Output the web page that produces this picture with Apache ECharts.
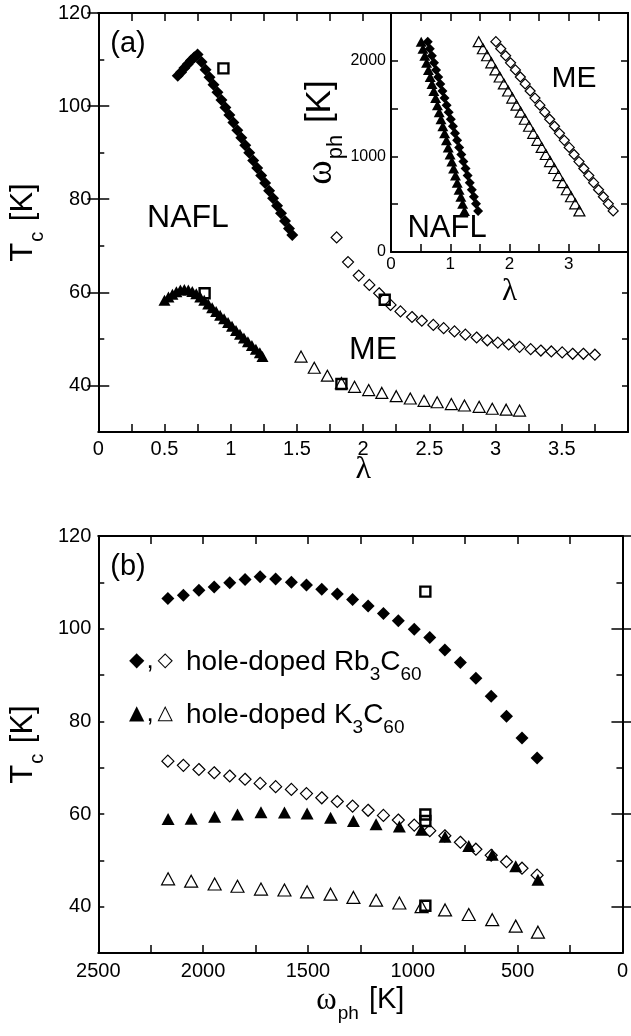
<!DOCTYPE html>
<html><head><meta charset="utf-8">
<script src="https://cdn.jsdelivr.net/npm/echarts@6/dist/echarts.min.js"></script>
<style>html,body{margin:0;padding:0;background:#fff}#c{width:631px;height:1036px}</style>
</head><body><div id="c"></div>
<script>
// ---------- Panel (a): Tc vs lambda ----------
const aRbNaflLam = [0.60,0.625,0.65,0.675,0.70,0.725,0.75,0.78,0.81,0.84,0.87,0.90,0.93,0.96,0.99,1.02,1.05,1.08,1.11,1.14,1.17,1.20,1.23,1.26,1.29,1.32,1.35,1.38,1.41,1.44,1.465];
const aRbNaflTc  = [106.5,107.3,108.2,109.0,109.8,110.5,111.1,109.5,107.8,106.2,104.6,103.0,101.3,99.7,98.1,96.5,94.8,93.2,91.6,90.0,88.3,86.7,85.1,83.5,81.8,80.2,78.6,77.0,75.3,73.7,72.3];
const aKNaflLam  = [0.50,0.53,0.56,0.59,0.62,0.65,0.68,0.71,0.74,0.77,0.80,0.83,0.86,0.89,0.92,0.95,0.98,1.01,1.04,1.07,1.10,1.13,1.16,1.19,1.22,1.24];
const aKNaflTc   = [58.3,59.0,59.6,60.1,60.5,60.6,60.5,60.2,59.7,59.0,58.3,57.5,56.7,55.9,55.1,54.3,53.5,52.7,51.8,51.0,50.2,49.4,48.6,47.8,47.0,46.2];
const aRbMeLam   = [1.80,1.886,1.967,2.047,2.121,2.207,2.282,2.369,2.443,2.53,2.608,2.69,2.772,2.857,2.938,3.017,3.099,3.181,3.265,3.342,3.421,3.503,3.582,3.663,3.75];
const aRbMeTc    = [71.8,66.5,63.6,61.6,59.8,57.3,55.9,54.7,53.9,53.0,52.3,51.6,50.9,50.3,49.7,49.2,48.8,48.3,47.8,47.5,47.3,47.1,46.8,46.8,46.6];
const aKMeLam    = [1.531,1.631,1.73,1.836,1.935,2.042,2.141,2.25,2.356,2.46,2.559,2.666,2.765,2.876,2.975,3.08,3.181];
const aKMeTc     = [46.2,43.8,42.1,40.5,39.7,39.0,38.4,37.7,37.2,36.7,36.4,36.0,35.7,35.4,35.0,34.8,34.6];
const aSqLam     = [0.945,0.803,2.163,1.836];
const aSqTc      = [108.1,59.8,58.4,40.3];

// ---------- Inset: omega_ph vs lambda ----------
const inOmega       = [2200,2126,2053,1979,1905,1831,1758,1684,1610,1536,1463,1389,1315,1241,1168,1094,1020,946,873,799,725,651,578,504,430];
const inRbNaflLam   = [0.62,0.655,0.69,0.726,0.761,0.797,0.832,0.868,0.903,0.939,0.974,1.01,1.045,1.08,1.116,1.151,1.187,1.222,1.258,1.293,1.329,1.364,1.399,1.435,1.47];
const inKNaflLam    = [0.51,0.54,0.571,0.601,0.632,0.662,0.692,0.723,0.753,0.784,0.814,0.844,0.875,0.905,0.936,0.966,0.997,1.027,1.057,1.088,1.118,1.149,1.179,1.209,1.24];
const inRbMeLam     = [1.77,1.853,1.935,2.018,2.10,2.183,2.265,2.348,2.43,2.513,2.595,2.678,2.76,2.843,2.925,3.008,3.09,3.173,3.255,3.338,3.42,3.503,3.585,3.668,3.75];
const inKMeLam      = [1.48,1.551,1.622,1.693,1.763,1.834,1.905,1.976,2.047,2.118,2.188,2.259,2.33,2.401,2.472,2.543,2.613,2.684,2.755,2.826,2.897,2.968,3.038,3.109,3.18];

// ---------- Panel (b): Tc vs omega_ph ----------
const bOmegaRb  = [2168,2094,2020,1947,1873,1800,1728,1654,1579,1507,1434,1360,1287,1213,1140,1069,993,919,847,773,699,626,553,479,407];
const bRbNaflTc = [106.5,107.2,108.3,109.0,109.9,110.6,111.2,110.7,110.0,109.4,108.5,107.5,106.3,104.9,103.3,101.7,99.9,98.1,95.4,92.7,89.3,85.4,81.1,76.4,72.1];
const bRbMeTc   = [71.4,70.5,69.6,68.9,68.2,67.5,66.6,65.9,65.3,64.4,63.5,62.7,61.7,60.8,59.7,58.7,57.6,56.4,55.3,53.9,52.4,51.1,49.7,48.3,46.8];
const bOmegaK   = [2167,2057,1945,1836,1724,1612,1504,1392,1283,1175,1064,958,846,733,621,509,403];
const bKNaflTc  = [58.9,59.0,59.4,59.9,60.4,60.3,60.1,59.2,58.5,57.8,57.3,56.6,55.1,53.1,51.2,48.7,45.8];
const bKMeTc    = [46.0,45.5,44.9,44.4,43.8,43.6,43.2,42.7,42.0,41.4,40.8,40.0,39.3,38.3,37.2,35.8,34.5];
const bSqOmega  = [940,940,940,940];
const bSqTc     = [108.0,59.9,58.5,40.2];

const tcMajor = [40,60,80,100,120];

const FONT = "'Liberation Sans', Arial, Helvetica, sans-serif";
const SERIF = "'Liberation Serif', 'DejaVu Serif', serif";
const BLK = '#000';
const zip = (a,b) => a.map((v,i)=>[v,b[i]]);

const lineS = {color:BLK, width:2};
function xAx(grid, pos, o) {
  return Object.assign({
    gridIndex:grid, type:'value', position:pos,
    axisLine:{show:true, onZero:false, lineStyle:lineS},
    axisTick:{show:true, inside:true, length:8, lineStyle:{color:BLK,width:1.5}},
    axisLabel:{show:false},
    splitLine:{show:false}
  }, o);
}
function yAx(grid, pos, o) {
  return Object.assign({
    gridIndex:grid, type:'value', position:pos,
    axisLine:{show:true, onZero:false, lineStyle:lineS},
    axisTick:{show:true, inside:true, length:6, lineStyle:{color:BLK,width:1.5}},
    axisLabel:{show:false},
    splitLine:{show:false}
  }, o);
}
const lab = (size, fmt, margin) => ({show:true, color:BLK, fontSize:size, fontFamily:FONT, formatter:fmt, margin:margin});

const fmtHalf = v => (Math.abs(v*2-Math.round(v*2))<1e-6 && v<3.99) ? String(Math.round(v*100)/100) : '';
const fmt20 = v => (Math.round(v)%20===0) ? String(Math.round(v)) : '';
const fmtInt = v => (Math.abs(v-Math.round(v))<1e-6 && v<3.99) ? String(Math.round(v)) : '';
const fmt1000 = v => (Math.round(v)%1000===0) ? String(Math.round(v)) : '';
const fmt500 = v => (Math.round(v)%500===0) ? String(Math.round(v)) : '';

const tcName = '{t|T}{s|c}{t| [K]}';
const tcRich = {t:{fontSize:31, fontFamily:FONT, color:BLK, lineHeight:34, verticalAlign:'top'},
                s:{fontSize:20, fontFamily:FONT, color:BLK, lineHeight:20, verticalAlign:'top', padding:[19,2,0,1]}};
function omRich(big, small, pad) {
  return {w:{fontSize:big+2, fontFamily:SERIF, color:BLK, lineHeight:big+4, verticalAlign:'top'},
          t:{fontSize:big, fontFamily:FONT, color:BLK, lineHeight:big+4, verticalAlign:'top'},
          s:{fontSize:small, fontFamily:FONT, color:BLK, lineHeight:small, verticalAlign:'top', padding:[pad,2,0,1]}};
}
const omName = '{w|ω}{s|ph}{t| [K]}';

const xAxis = [
  // 0,1 : panel (a)
  xAx(0,'bottom',{min:0,max:4,interval:0.25, axisLabel:lab(20,fmtHalf,7),
     name:'λ', nameLocation:'middle', nameGap:22, nameMoveOverlap:false, nameTextStyle:{fontSize:32,fontFamily:SERIF,color:BLK}}),
  xAx(0,'top',{min:0,max:4,interval:0.25}),
  // 2,3 : inset
  xAx(1,'bottom',{min:0,max:4,interval:0.5, z:6, axisLabel:lab(17,fmtInt,4),
     name:'λ', nameLocation:'middle', nameGap:24, nameTextStyle:{fontSize:31,fontFamily:SERIF,color:BLK}}),
  xAx(1,'top',{min:0,max:4,interval:0.5, z:6}),
  // 4,5 : panel (b)
  xAx(2,'bottom',{min:0,max:2500,interval:250, inverse:true, axisLabel:lab(20,fmt500,8),
     name:omName, nameLocation:'middle', nameGap:32, nameTextStyle:{rich:omRich(29,19,19)}}),
  xAx(2,'top',{min:0,max:2500,interval:250, inverse:true})
];
const yAxis = [
  // panel (a)
  yAx(0,'left',{min:30,max:120,interval:10}),
  yAx(0,'left',{min:30,max:120, axisLine:{show:false}, axisTick:{show:true,inside:true,length:11,customValues:tcMajor,lineStyle:{color:BLK,width:1.5}},
     axisLabel:Object.assign(lab(20,fmt20,7),{customValues:tcMajor}),
     name:tcName, nameLocation:'middle', nameGap:50, nameRotate:90, nameTextStyle:{rich:tcRich}}),
  yAx(0,'right',{min:30,max:120,interval:10}),
  yAx(0,'right',{min:30,max:120, axisLine:{show:false}, axisTick:{show:true,inside:true,length:11,customValues:tcMajor,lineStyle:{color:BLK,width:1.5}}}),
  // inset
  yAx(1,'left',{min:0,max:2500,interval:500, z:6, axisTick:{show:true,inside:true,length:7,lineStyle:{color:BLK,width:1.5}},
     axisLabel:lab(16,fmt1000,5),
     name:omName, nameLocation:'middle', nameGap:46, nameRotate:90, nameTextStyle:{rich:omRich(35,22,22)}}),
  yAx(1,'right',{min:0,max:2500,interval:500, z:6, axisTick:{show:true,inside:true,length:7,lineStyle:{color:BLK,width:1.5}}}),
  // panel (b)
  yAx(2,'left',{min:30,max:120,interval:10}),
  yAx(2,'left',{min:30,max:120, axisLine:{show:false}, axisTick:{show:true,inside:true,length:11,customValues:tcMajor,lineStyle:{color:BLK,width:1.5}},
     axisLabel:Object.assign(lab(20,fmt20,7),{customValues:tcMajor}),
     name:tcName, nameLocation:'middle', nameGap:50, nameRotate:90, nameTextStyle:{rich:tcRich}}),
  yAx(2,'right',{min:30,max:120,interval:10}),
  yAx(2,'right',{min:30,max:120, axisLine:{show:false}, axisTick:{show:true,inside:true,length:11,customValues:tcMajor,lineStyle:{color:BLK,width:1.5}}})
];

const filled = {color:BLK, borderWidth:0, opacity:1};
const open = {color:'rgba(255,255,255,0)', borderColor:BLK, borderWidth:1.2, opacity:1};
const sq = {color:'rgba(255,255,255,0)', borderColor:BLK, borderWidth:2.4, opacity:1};
function sc(xi, yi, data, symbol, size, style, z) {
  return {type:'scatter', xAxisIndex:xi, yAxisIndex:yi, data:data, symbol:symbol, symbolSize:size,
          itemStyle:style, z:z||2, silent:true, emphasis:{disabled:true}};
}

const series = [
  // panel (a)
  sc(0,0, zip(aRbMeLam,aRbMeTc), 'diamond', 11, open),
  sc(0,0, zip(aKMeLam,aKMeTc), 'triangle', [12,11], open),
  sc(0,0, zip(aRbNaflLam,aRbNaflTc), 'diamond', 12, filled),
  sc(0,0, zip(aKNaflLam,aKNaflTc), 'triangle', [12,11], filled),
  sc(0,0, zip(aSqLam,aSqTc), 'rect', 10, sq, 3),
  // inset
  sc(2,4, zip(inRbMeLam,inOmega), 'diamond', 10, open, 7),
  sc(2,4, zip(inKMeLam,inOmega), 'triangle', [11,10], open, 7),
  sc(2,4, zip(inRbNaflLam,inOmega), 'diamond', 10, filled, 7),
  sc(2,4, zip(inKNaflLam,inOmega), 'triangle', [11,10], filled, 7),
  // panel (b)
  sc(4,6, zip(bOmegaRb,bRbMeTc), 'diamond', 12, open),
  sc(4,6, zip(bOmegaK,bKMeTc), 'triangle', [13,12], open),
  sc(4,6, zip(bOmegaRb,bRbNaflTc), 'diamond', 13, filled),
  sc(4,6, zip(bOmegaK,bKNaflTc), 'triangle', [13,12], filled),
  sc(4,6, zip(bSqOmega,bSqTc), 'rect', 10, sq, 3)
];

function txt(x, y, s, size, z) {
  return {type:'text', x:x, y:y, z:z||20, silent:true,
          style:{text:s, fill:BLK, font:size+'px '+FONT, textAlign:'center', textVerticalAlign:'middle'}};
}
const legRich = {
  m:{fontSize:20, fontFamily:'DejaVu Sans', color:BLK, lineHeight:32, verticalAlign:'top', padding:[3,0,0,0]},
  c:{fontSize:26, fontFamily:FONT, color:BLK, lineHeight:32, verticalAlign:'top', padding:[0,4,0,2]},
  g:{fontSize:20, fontFamily:'DejaVu Sans', color:BLK, lineHeight:32, verticalAlign:'top', padding:[3,13,0,0]},
  t:{fontSize:28, fontFamily:FONT, color:BLK, lineHeight:32, verticalAlign:'top'},
  s:{fontSize:19, fontFamily:FONT, color:BLK, lineHeight:19, verticalAlign:'top', padding:[17,0,0,0]}
};
function legend(x, y, s) {
  return {type:'text', x:x, y:y, z:20, silent:true,
          style:{text:s, rich:legRich, textVerticalAlign:'middle', textAlign:'left'}};
}

const option = {
  animation:false,
  backgroundColor:'#fff',
  grid:[
    {left:91, top:13, width:539, height:419},
    {left:391, top:13, width:239, height:239, show:true, backgroundColor:'#fff', borderWidth:0, z:5},
    {left:91, top:536, width:539, height:417}
  ],
  xAxis:xAxis,
  yAxis:yAxis,
  series:series,
  graphic:[
    txt(128,44,'(a)',29),
    txt(188,218,'NAFL',32),
    txt(373,350,'ME',32),
    txt(574,79,'ME',30,30),
    txt(447,228,'NAFL',31,30),
    txt(128,567,'(b)',29),
    legend(129,664,'{m|◆}{c|,}{g|◇}{t|hole-doped Rb}{s|3}{t|C}{s|60}'),
    legend(129,717,'{m|▲}{c|,}{g|△}{t|hole-doped K}{s|3}{t|C}{s|60}')
  ]
};
const chart = echarts.init(document.getElementById('c'), null, {renderer:'canvas'});
chart.setOption(option);
</script></body></html>
